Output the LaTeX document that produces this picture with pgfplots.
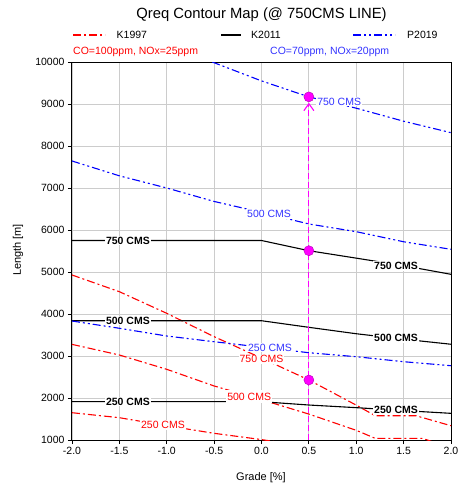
\documentclass[border=0pt]{standalone}
\usepackage{fontspec}
\setmainfont{Liberation Sans}
\usepackage{pgfplots}
\pgfplotsset{compat=1.18}
\usetikzlibrary{arrows.meta}

\definecolor{kred}{HTML}{FF0000}
\definecolor{pblue}{HTML}{0000FF}
\definecolor{lblue}{HTML}{3333FF}
\definecolor{mag}{HTML}{FF00FF}
\definecolor{gridgray}{HTML}{CCCCCC}

\tikzset{
  redline/.style={kred, line width=1.1bp, dash pattern=on 8bp off 3bp on 2bp off 3bp},
  blueline/.style={pblue, line width=1.1bp, dash pattern=on 8bp off 3bp on 2bp off 3bp on 2bp off 3bp},
  blackline/.style={black, line width=1.1bp},
  lab/.style={fill=white, inner sep=1bp, font=\fontsize{10.5bp}{12bp}\selectfont},
}

\begin{document}
\begin{tikzpicture}
\useasboundingbox (-72bp,-45bp) rectangle (387bp,440bp);
\begin{axis}[
  at={(0,0)}, anchor=south west,
  scale only axis, width=379bp, height=378bp,
  xmin=-2, xmax=2, ymin=1000, ymax=10000,
  xtick={-2,-1.5,...,2}, ytick={1000,2000,...,10000},
  scaled x ticks=false, scaled y ticks=false,
  tick pos=left, tick align=outside,
  major tick length=4bp,
  grid=major,
  major grid style={gridgray, line width=0.9bp},
  axis line style={black, line width=1bp},
  tick style={black, line width=0.8bp},
  ticklabel style={font=\fontsize{10.5bp}{12bp}\selectfont},
  xticklabel={\pgfmathprintnumber[assume math mode=true, fixed, fixed zerofill, precision=1]{\tick}},
  yticklabel={\pgfmathprintnumber[assume math mode=true, fixed, precision=0, 1000 sep={}]{\tick}},
  clip=true,
]
% K1997 (red)
\addplot[redline] coordinates {(-2,4929) (-1.5,4531) (-1,4016) (-0.5,3460) (0,2950) (0.5,2429) (1.0,1830) (1.2,1578) (1.63,1578) (2,1340)};
\addplot[redline] coordinates {(-2,3277) (-1.5,3024) (-1,2683) (-0.5,2286) (0,1960) (0.5,1617) (1.0,1230) (1.2,1040) (1.7,1040) (1.8,960)};
\addplot[redline] coordinates {(-2,1650) (-1.5,1531) (-1,1340) (-0.5,1159) (0,1010) (0.2,940)};
% K2011 (black)
\addplot[blackline] coordinates {(-2,5750) (0,5750) (0.5,5507) (1,5330) (1.5,5150) (2,4945)};
\addplot[blackline] coordinates {(-2,3840) (0,3840) (0.5,3683) (1,3530) (1.5,3400) (2,3280)};
\addplot[blackline] coordinates {(-2,1912) (0,1912) (0.5,1833) (1,1770) (1.5,1700) (2,1635)};
% P2019 (blue)
\addplot[blueline] coordinates {(-0.52,10000) (0,9550) (0.5,9170) (1,8900) (1.5,8590) (2,8317)};
\addplot[blueline] coordinates {(-2,7643) (-1.5,7290) (-1,7000) (-0.5,6680) (0,6420) (0.5,6143) (1,5960) (1.5,5720) (2,5540)};
\addplot[blueline] coordinates {(-2,3833) (-1.5,3660) (-1,3476) (-0.5,3340) (0,3210) (0.5,3078) (1,2983) (1.5,2864) (2,2769)};
% labels
\node[lab, text=lblue] at (axis cs:0.82,9055) {750 CMS};
\node[lab, text=lblue] at (axis cs:0.08,6381) {500 CMS};
\node[lab, text=lblue] at (axis cs:0.09,3198) {250 CMS};
\node[lab, text=kred] at (axis cs:0.0,2921) {750 CMS};
\node[lab, text=kred, inner ysep=3bp] at (axis cs:-0.13,2032) {500 CMS};
\node[lab, text=kred] at (axis cs:-1.04,1357) {250 CMS};
\node[lab, font=\fontsize{10.5bp}{12bp}\selectfont\bfseries] at (axis cs:-1.41,5750) {750 CMS};
\node[lab, font=\fontsize{10.5bp}{12bp}\selectfont\bfseries] at (axis cs:-1.41,3840) {500 CMS};
\node[lab, font=\fontsize{10.5bp}{12bp}\selectfont\bfseries] at (axis cs:-1.41,1912) {250 CMS};
\node[lab, font=\fontsize{10.5bp}{12bp}\selectfont\bfseries] at (axis cs:1.42,5143) {750 CMS};
\node[lab, font=\fontsize{10.5bp}{12bp}\selectfont\bfseries] at (axis cs:1.42,3420) {500 CMS};
\node[lab, font=\fontsize{10.5bp}{12bp}\selectfont\bfseries] at (axis cs:1.42,1714) {250 CMS};
% 750 CMS line marker
\addplot[mag, line width=1.1bp, dash pattern=on 6bp off 3bp, -{Straight Barb[length=7bp, width=10bp]}] coordinates {(0.5,1000) (0.5,9030)};
\addplot[only marks, mark=*, mark size=5bp, mag, mark options={fill=mag, draw=mag!70!black}] coordinates {(0.5,9170) (0.5,5507) (0.5,2429)};
\end{axis}
% title, legend, notes
\node[font=\fontsize{14.8bp}{16bp}\selectfont] at (189.5bp,425bp) {Qreq Contour Map (@ 750CMS LINE)};
\draw[redline] (1bp,405bp) -- (33bp,405bp);
\node[anchor=west, inner sep=0pt, font=\fontsize{10.5bp}{12bp}\selectfont] at (44.5bp,405bp) {K1997};
\draw[blackline] (149bp,405bp) -- (169bp,405bp);
\node[anchor=west, inner sep=0pt, font=\fontsize{10.5bp}{12bp}\selectfont] at (179bp,405bp) {K2011};
\draw[blueline] (281bp,405bp) -- (323bp,405bp);
\node[anchor=west, inner sep=0pt, font=\fontsize{10.5bp}{12bp}\selectfont] at (335bp,405bp) {P2019};
\node[anchor=west, inner sep=0pt, text=kred, font=\fontsize{10.5bp}{12bp}\selectfont] at (1bp,388bp) {CO=100ppm, NOx=25ppm};
\node[anchor=west, inner sep=0pt, text=lblue, font=\fontsize{10.5bp}{12bp}\selectfont] at (198bp,388bp) {CO=70ppm, NOx=20ppm};
% axis titles
\node[font=\fontsize{11bp}{13bp}\selectfont] at (189bp,-38bp) {Grade [\%]};
\node[rotate=90, font=\fontsize{11bp}{13bp}\selectfont] at (-54bp,190bp) {Length [m]};
\end{tikzpicture}
\end{document}
